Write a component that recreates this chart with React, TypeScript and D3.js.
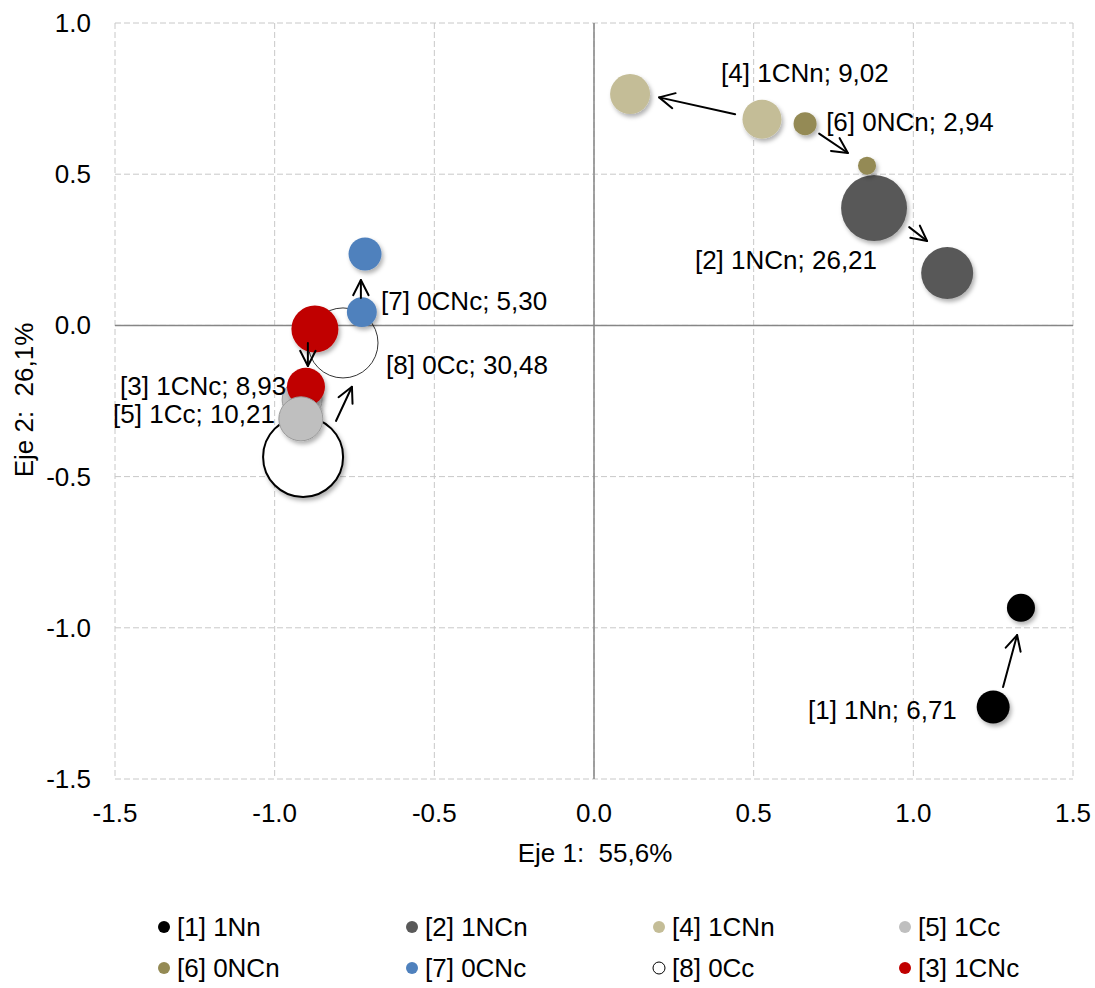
import React from "react";
import * as d3 from "d3";

// ---------- data ----------
const seriesNames = ["[1] 1Nn", "[2] 1NCn", "[4] 1CNn", "[5] 1Cc", "[6] 0NCn", "[7] 0CNc", "[8] 0Cc", "[3] 1CNc"];
const seriesValues = ["6,71", "26,21", "9,02", "10,21", "2,94", "5,30", "30,48", "8,93"];
// two points per series: [first, second]
const seriesX = [
  [1.25, 1.337],
  [0.877, 1.106],
  [0.526, 0.113],
  [-0.914, -0.918],
  [0.661, 0.855],
  [-0.727, -0.717],
  [-0.911, -0.786],
  [-0.874, -0.902],
];
const seriesY = [
  [-1.262, -0.934],
  [0.388, 0.173],
  [0.682, 0.765],
  [-0.246, -0.309],
  [0.667, 0.528],
  [0.044, 0.236],
  [-0.435, -0.058],
  [-0.012, -0.203],
];
const seriesSize = [
  [17, 12.3],
  [68, 42.3],
  [23.8, 25],
  [25, 30.3],
  [8.3, 5.1],
  [14, 17],
  [100, 76.6],
  [34.5, 22.6],
];
// arrows [x1, y1, x2, y2] in axis units
const arrows = [
  [1.281, -1.196, 1.325, -1.024],
  [0.987, 0.325, 1.043, 0.279],
  [0.442, 0.698, 0.204, 0.754],
  [0.705, 0.634, 0.795, 0.57],
  [-0.73, 0.091, -0.73, 0.15],
  [-0.896, -0.058, -0.896, -0.134],
  [-0.808, -0.316, -0.758, -0.203],
];
// data label anchors (left x, middle y) in axis units, per series
const labelX = [0.67, 0.316, 0.398, -1.506, 0.727, -0.667, -0.651, -1.484];
const labelY = [-1.272, 0.216, 0.834, -0.293, 0.672, 0.08, -0.131, -0.2];

const xTicks = [-1.5, -1.0, -0.5, 0.0, 0.5, 1.0, 1.5];
const yTicks = [1.0, 0.5, 0.0, -0.5, -1.0, -1.5];
const xTitle = "Eje 1:  55,6%";
const yTitle = "Eje 2:  26,1%";
const legendOrder = [0, 1, 2, 3, 4, 5, 6, 7];

// ---------- style ----------
const fills = ["#000000", "#595959", "#C4BD97", "#BFBFBF", "#948A54", "#4F81BD", "#FFFFFF", "#C00000"];
const strokes = ["none", "none", "none", "#9A9A9A", "none", "none", "#000000", "none"];
const FONT = "'Liberation Sans', Arial, sans-serif";

const W = 1095;
const H = 988;
const plot = { left: 115, right: 1073, top: 23, bottom: 779 };

export default function App() {
  const x = d3.scaleLinear().domain([-1.5, 1.5]).range([plot.left, plot.right]);
  const y = d3.scaleLinear().domain([-1.5, 1.0]).range([plot.bottom, plot.top]);
  const r = d3.scaleSqrt().domain([0, 100]).range([0, 40]);

  type Bubble = { s: number; p: number };
  // drawing order (back to front)
  const order: Bubble[] = [
    { s: 6, p: 0 },
    { s: 6, p: 1 },
    { s: 0, p: 0 },
    { s: 0, p: 1 },
    { s: 1, p: 0 },
    { s: 1, p: 1 },
    { s: 2, p: 0 },
    { s: 2, p: 1 },
    { s: 4, p: 0 },
    { s: 4, p: 1 },
    { s: 3, p: 0 },
    { s: 7, p: 0 },
    { s: 7, p: 1 },
    { s: 3, p: 1 },
    { s: 5, p: 0 },
    { s: 5, p: 1 },
  ];

  const headLen = 17;
  const headAng = (27 * Math.PI) / 180;

  const legendCols = [164, 412, 659, 905];
  const legendRows = [927, 968];

  return (
    <svg
      width={W}
      height={H}
      style={{ position: "absolute", left: 0, top: 0, background: "#fff" }}
      fontFamily={FONT}
    >
      <defs>
        <filter id="sh" x="-30%" y="-30%" width="170%" height="170%">
          <feDropShadow dx="2" dy="3" stdDeviation="2" floodColor="#000" floodOpacity="0.3" />
        </filter>
      </defs>
      <rect x={0} y={0} width={W} height={H} fill="#fff" />

      {/* grid */}
      {xTicks.map((t) => (
        <line
          key={"gx" + t}
          x1={x(t)}
          x2={x(t)}
          y1={plot.top}
          y2={plot.bottom}
          stroke="#C8C8C8"
          strokeWidth={1}
          strokeDasharray="6,3"
        />
      ))}
      {yTicks.map((t) => (
        <line
          key={"gy" + t}
          x1={plot.left}
          x2={plot.right}
          y1={y(t)}
          y2={y(t)}
          stroke="#C8C8C8"
          strokeWidth={1}
          strokeDasharray="6,3"
        />
      ))}
      {/* zero axes */}
      <line x1={x(0)} x2={x(0)} y1={plot.top} y2={plot.bottom} stroke="#868686" strokeWidth={1.5} />
      <line x1={plot.left} x2={plot.right} y1={y(0)} y2={y(0)} stroke="#868686" strokeWidth={1.5} />

      {/* tick labels */}
      {xTicks.map((t) => (
        <text key={"tx" + t} x={x(t)} y={813} fontSize={26} textAnchor="middle" dominantBaseline="central" fill="#000">
          {t.toFixed(1)}
        </text>
      ))}
      {yTicks.map((t) => (
        <text key={"ty" + t} x={91} y={y(t)} fontSize={26} textAnchor="end" dominantBaseline="central" fill="#000">
          {t.toFixed(1)}
        </text>
      ))}
      {/* axis titles */}
      <text x={595} y={853} fontSize={26} textAnchor="middle" dominantBaseline="central" style={{ whiteSpace: "pre" }}>
        {xTitle}
      </text>
      <text
        transform={`translate(24,400) rotate(-90)`}
        fontSize={26}
        textAnchor="middle"
        dominantBaseline="central"
        style={{ whiteSpace: "pre" }}
      >
        {yTitle}
      </text>

      {/* bubbles */}
      {order.map(({ s, p }) => {
        const thin = s === 6 && p === 1;
        return (
          <circle
            key={`b${s}-${p}`}
            cx={x(seriesX[s][p])}
            cy={y(seriesY[s][p])}
            r={r(seriesSize[s][p])}
            fill={thin ? "none" : fills[s]}
            stroke={strokes[s]}
            strokeWidth={s === 6 ? (thin ? 0.8 : 2) : 1}
            filter={thin ? undefined : "url(#sh)"}
          />
        );
      })}

      {/* arrows */}
      {arrows.map((a, i) => {
        const x1 = x(a[0]);
        const y1 = y(a[1]);
        const x2 = x(a[2]);
        const y2 = y(a[3]);
        const ang = Math.atan2(y1 - y2, x1 - x2);
        const w1x = x2 + headLen * Math.cos(ang + headAng);
        const w1y = y2 + headLen * Math.sin(ang + headAng);
        const w2x = x2 + headLen * Math.cos(ang - headAng);
        const w2y = y2 + headLen * Math.sin(ang - headAng);
        return (
          <g key={"ar" + i} stroke="#000" strokeWidth={2} fill="none" strokeLinecap="round" strokeLinejoin="round">
            <line x1={x1} y1={y1} x2={x2} y2={y2} />
            <path d={`M${w1x},${w1y} L${x2},${y2} L${w2x},${w2y}`} />
          </g>
        );
      })}

      {/* data labels */}
      {seriesNames.map((n, i) => (
        <text
          key={"lb" + i}
          x={x(labelX[i])}
          y={y(labelY[i])}
          fontSize={26}
          dominantBaseline="central"
          fill="#000"
        >
          {`${n}; ${seriesValues[i]}`}
        </text>
      ))}

      {/* legend */}
      {legendOrder.map((s, k) => {
        const cx = legendCols[k % 4];
        const cy = legendRows[Math.floor(k / 4)];
        return (
          <g key={"lg" + s}>
            <circle cx={cx} cy={cy} r={6} fill={fills[s]} stroke={s === 6 ? "#000" : "none"} strokeWidth={1} />
            <text x={cx + 13} y={cy} fontSize={26} dominantBaseline="central" fill="#000">
              {seriesNames[s]}
            </text>
          </g>
        );
      })}
    </svg>
  );
}
